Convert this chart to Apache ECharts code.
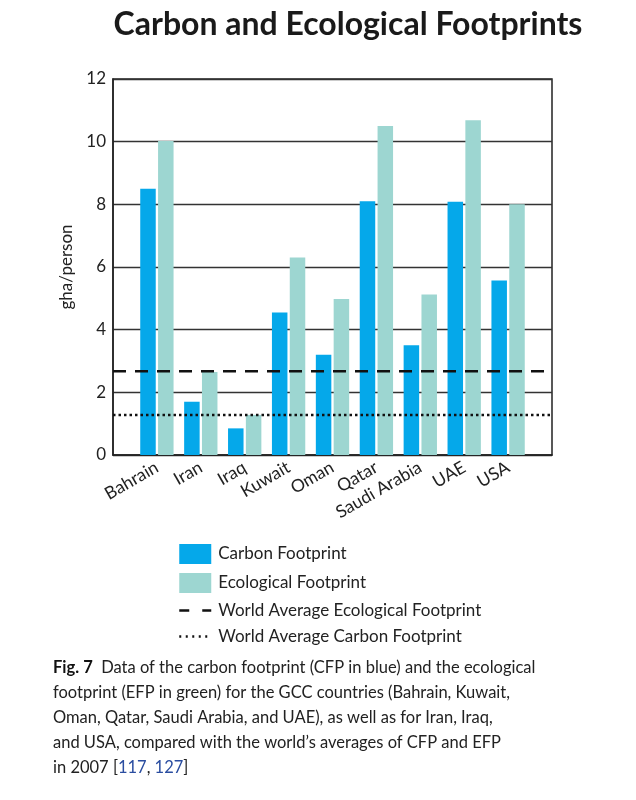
<!DOCTYPE html>
<html><head><meta charset="utf-8">
<script src="https://cdn.jsdelivr.net/npm/echarts@6/dist/echarts.min.js"></script>
<style>html,body{margin:0;padding:0;background:#fff}#c{width:636px;height:800px}</style>
</head><body><div id="c"></div>
<script>
const categories = ['Bahrain','Iran','Iraq','Kuwait','Oman','Qatar','Saudi Arabia','UAE','USA'];
const carbonFootprint = [8.5, 1.7, 0.85, 4.55, 3.2, 8.1, 3.5, 8.08, 5.57];
const ecologicalFootprint = [10.02, 2.65, 1.28, 6.3, 4.98, 10.5, 5.12, 10.68, 8.0];
const worldAvgEcological = 2.67;
const worldAvgCarbon = 1.28;
const yTicks = [0, 2, 4, 6, 8, 10, 12];

const FONT = 'Lato';
const chart = echarts.init(document.getElementById('c'), null, {renderer: 'canvas'});
const xMin = -1, xMax = categories.length;
chart.setOption({
  animation: false,
  backgroundColor: '#fff',
  textStyle: {fontFamily: FONT},
  title: {
    text: 'Carbon and Ecological Footprints',
    left: 343, top: 4, textAlign: 'center',
    textStyle: {fontFamily: FONT, fontSize: 32, fontWeight: 'bold', color: '#1a1a1a'}
  },
  grid: {left: 113, right: 84, top: 79, bottom: 345, show: true, borderColor: '#222', borderWidth: 1.5, containLabel: false},
  xAxis: {
    type: 'value', min: xMin, max: xMax, interval: 1,
    axisLine: {show: true, onZero: false, lineStyle: {color: '#222', width: 1.5}},
    axisTick: {show: false},
    splitLine: {show: false},
    axisLabel: {
      rotate: 30, margin: 11, fontSize: 17.5, color: '#222', fontFamily: FONT,
      formatter: v => (v >= 0 && v < categories.length) ? categories[v] : ''
    }
  },
  yAxis: {
    type: 'value', min: yTicks[0], max: yTicks[yTicks.length - 1], interval: 2,
    name: 'gha/person', nameLocation: 'middle', nameGap: 33,
    nameTextStyle: {fontSize: 17, color: '#222', fontFamily: FONT},
    axisLine: {show: true, onZero: false, lineStyle: {color: '#222', width: 1.5}},
    axisTick: {show: false},
    axisLabel: {fontSize: 17, color: '#222', margin: 7, fontFamily: FONT},
    splitLine: {show: true, lineStyle: {color: '#333', width: 1.3}}
  },
  legend: {
    orient: 'vertical', left: 173, top: 539,
    itemWidth: 32, itemHeight: 20, itemGap: 9,
    textStyle: {fontSize: 17, color: '#222', fontFamily: FONT, padding: [0, 0, 0, 2]},
    data: [
      {name: 'Carbon Footprint', icon: 'rect'},
      {name: 'Ecological Footprint', icon: 'rect'},
      {name: 'World Average Ecological Footprint', itemStyle: {opacity: 0}, lineStyle: {type: [10, 13], width: 2.5, color: '#111'}},
      {name: 'World Average Carbon Footprint', itemStyle: {opacity: 0}, lineStyle: {type: [2, 4.5], width: 2.5, color: '#111'}}
    ]
  },
  series: [
    {
      name: 'Carbon Footprint', type: 'bar', barWidth: 15.5, barGap: '15%',
      itemStyle: {color: '#05a8ea'},
      data: categories.map((c, i) => [i, carbonFootprint[i]])
    },
    {
      name: 'Ecological Footprint', type: 'bar', barWidth: 15.5, barGap: '15%',
      itemStyle: {color: '#9dd6d1'},
      data: categories.map((c, i) => [i, ecologicalFootprint[i]])
    },
    {
      name: 'World Average Ecological Footprint', type: 'line', symbol: 'none', showSymbol: false, z: 5,
      itemStyle: {color: '#111'},
      lineStyle: {type: [13, 9], width: 2.5, color: '#111'},
      data: [[xMin, worldAvgEcological], [xMax, worldAvgEcological]]
    },
    {
      name: 'World Average Carbon Footprint', type: 'line', symbol: 'none', showSymbol: false, z: 5,
      itemStyle: {color: '#111'},
      lineStyle: {type: [2.5, 3], width: 2.5, color: '#111'},
      data: [[xMin, worldAvgCarbon], [xMax, worldAvgCarbon]]
    }
  ],
  graphic: [
    {type: 'text', left: 53, top: 659, style: {
      rich: {b: {fontFamily: FONT, fontSize: 16.5, fontWeight: 'bold', fill: '#111'}, n: {fontFamily: FONT, fontSize: 16.5, fill: '#222'}},
      text: '{b|Fig. 7}{n|  Data of the carbon footprint (CFP in blue) and the ecological}'}},
    {type: 'text', left: 53, top: 684, style: {fontFamily: FONT, fontSize: 16.5, fill: '#222',
      text: 'footprint (EFP in green) for the GCC countries (Bahrain, Kuwait,'}},
    {type: 'text', left: 53, top: 709, style: {fontFamily: FONT, fontSize: 16.5, fill: '#222',
      text: 'Oman, Qatar, Saudi Arabia, and UAE), as well as for Iran, Iraq,'}},
    {type: 'text', left: 53, top: 734, style: {fontFamily: FONT, fontSize: 16.5, fill: '#222',
      text: 'and USA, compared with the world\u2019s averages of CFP and EFP'}},
    {type: 'text', left: 53, top: 759, style: {
      rich: {n: {fontFamily: FONT, fontSize: 16.5, fill: '#222'}, l: {fontFamily: FONT, fontSize: 16.5, fill: '#2a4da0'}},
      text: '{n|in 2007 [}{l|117}{n|, }{l|127}{n|]}'}}
  ]
});
</script></body></html>
